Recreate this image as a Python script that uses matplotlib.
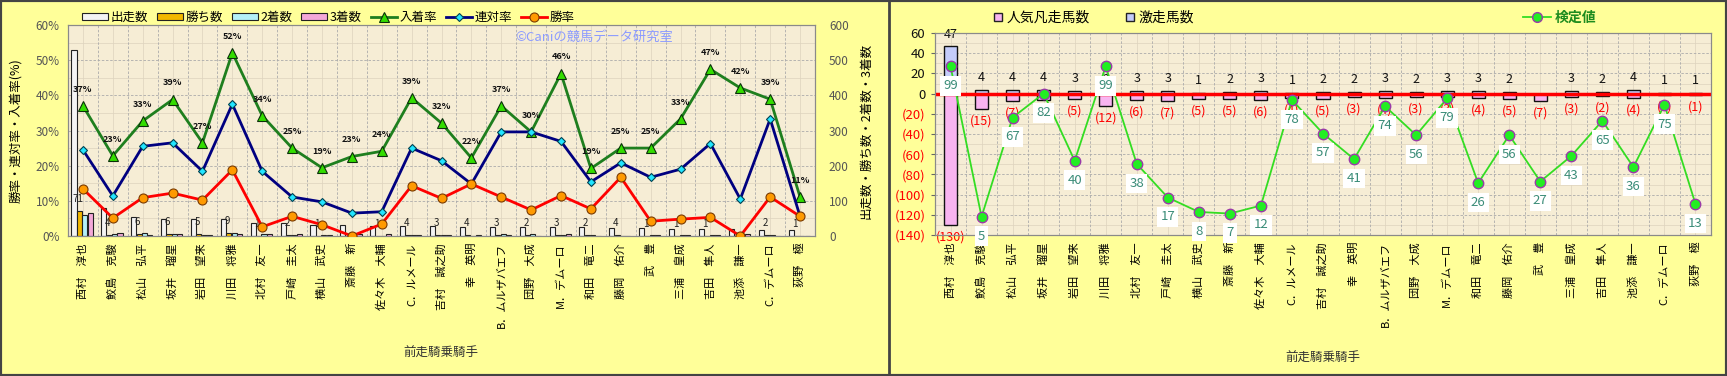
import numpy as np
import matplotlib.pyplot as plt
from matplotlib.lines import Line2D
from matplotlib.patches import Rectangle

plt.rcParams['font.family'] = ['Noto Sans CJK JP', 'DejaVu Sans']

# jockeys (previous race rider)
jockeys = ['西村　淳也', '鮫島　克駿', '松山　弘平', '坂井　瑠星', '岩田　望来', '川田　将雅',
           '北村　友一', '戸崎　圭太', '横山　武史', '斎藤　新', '佐々木　大輔', 'C．ルメール',
           '吉村　誠之助', '幸　英明', 'B．ムルザバエフ', '団野　大成', 'M．デムーロ', '和田　竜二',
           '藤岡　佑介', '武　豊', '三浦　皇成', '吉田　隼人', '池添　謙一', 'C．デムーロ', '荻野　極']

# left chart: counts
starts = [530, 79, 55, 49, 49, 48, 38, 36, 31, 31, 29, 28, 28, 27, 27, 27, 26, 26, 24, 24, 21, 19, 19, 18, 18]
wins = [71, 4, 6, 6, 5, 9, 1, 2, 1, 0, 1, 4, 3, 4, 3, 2, 3, 2, 4, 1, 1, 1, 0, 2, 1]
seconds = [59, 5, 8, 7, 4, 9, 6, 2, 2, 2, 1, 3, 3, 0, 5, 6, 4, 2, 1, 3, 3, 4, 2, 4, 0]
thirds = [66, 9, 4, 6, 4, 7, 6, 5, 3, 5, 5, 4, 3, 2, 2, 0, 5, 1, 1, 2, 3, 4, 6, 1, 1]

# left chart: rates (%)
place_rate = [37.0, 22.8, 32.7, 38.8, 26.53, 52.1, 34.2, 25.0, 19.4, 22.6, 24.1, 39.3, 32.1,
              22.2, 37.0, 29.6, 46.2, 19.2, 25.0, 25.0, 33.3, 47.4, 42.1, 38.9, 11.1]
rentai_rate = [24.5, 11.4, 25.5, 26.5, 18.4, 37.5, 18.4, 11.1, 9.7, 6.5, 6.9, 25.0, 21.4,
               14.8, 29.6, 29.6, 26.9, 15.4, 20.8, 16.7, 19.0, 26.3, 10.5, 33.3, 5.6]
win_rate = [13.4, 5.1, 10.9, 12.2, 10.2, 18.8, 2.6, 5.6, 3.2, 0.0, 3.4, 14.3, 10.7,
            14.8, 11.1, 7.4, 11.5, 7.7, 16.7, 4.2, 4.8, 5.3, 0.0, 11.1, 5.6]

# right chart
gekisou = [47, 4, 4, 4, 3, 2, 3, 3, 1, 2, 3, 1, 2, 2, 3, 2, 3, 3, 2, 0, 3, 2, 4, 1, 1]
ninki_bonsou = [-130, -15, -7, -6, -5, -12, -6, -7, -5, -5, -6, -4, -5, -3, -4, -3, -3, -4,
                -5, -7, -3, -2, -4, -1, -1]
kentei = [99, 5, 67, 82, 40, 99, 38, 17, 8, 7, 12, 78, 57, 41, 74, 56, 79, 26, 56, 27, 43,
          65, 36, 75, 13]

W, H = 1727, 376
BG = '#FFFF99'
PLOT_BG = '#F6EDD5'
GRID = '#ABABAB'

fig = plt.figure(figsize=(W / 100, H / 100), dpi=100, facecolor=BG)
x = np.arange(len(jockeys))


def style_grid(ax, major_y, minor_y):
    ax.set_facecolor(PLOT_BG)
    for b in x[:-1] + 0.5:
        ax.axvline(b, color=GRID, lw=0.6, ls=(0, (3, 2)), zorder=0.5)
    for c in x:
        ax.axvline(c, color='#DDD3BE', lw=0.5, zorder=0.4)
    for v in minor_y:
        ax.axhline(v, color='#DDD3BE', lw=0.5, zorder=0.4)
    for v in major_y:
        ax.axhline(v, color=GRID, lw=0.6, ls=(0, (3, 2)), zorder=0.5)
    for s in ax.spines.values():
        s.set_color('#8A8A8A')


# ---------------- left chart ----------------
ax1 = fig.add_axes([68 / W, 1 - 236 / H, (815 - 68) / W, (236 - 25) / H])
ax1b = ax1.twinx()
ax1.yaxis.tick_right()
ax1.yaxis.set_label_position('right')
ax1b.yaxis.tick_left()
ax1b.yaxis.set_label_position('left')

style_grid(ax1, np.arange(100, 600, 100), np.arange(50, 600, 100))
bw = 0.17
b1 = ax1.bar(x - 0.30, starts, bw, color='#F4F4F4', edgecolor='#222222', lw=0.8, label='出走数', zorder=2)
b2 = ax1.bar(x - 0.12, wins, bw, color='#F2B800', edgecolor='#222222', lw=0.8, label='勝ち数', zorder=2)
b3 = ax1.bar(x + 0.06, seconds, bw, color='#B4F0F8', edgecolor='#222222', lw=0.8, label='2着数', zorder=2)
b4 = ax1.bar(x + 0.24, thirds, bw, color='#F4A8D8', edgecolor='#222222', lw=0.8, label='3着数', zorder=2)
for xi, w in zip(x, wins):
    if w > 0:
        ax1.annotate(str(w), (xi - 0.17, w), xytext=(0, 5), textcoords='offset points',
                     ha='center', va='bottom', fontsize=7, color='#222222', zorder=3)
ax1.set_ylim(0, 600)
ax1.set_yticks(np.arange(0, 601, 100))
ax1.tick_params(axis='y', length=0, labelsize=8.5, labelcolor='#555555', pad=10)
ax1.set_ylabel('出走数・勝ち数・2着数・3着数', fontsize=9, labelpad=8)
ax1.set_xlim(-0.5, len(jockeys) - 0.5)
ax1.set_xticks(x)
ax1.set_xticklabels(jockeys, rotation=90, fontsize=8)
ax1.tick_params(axis='x', length=0, pad=5)

l1, = ax1b.plot(x, place_rate, color='#1E7F1E', lw=2, marker='^', ms=7.5,
                mfc='#33DD00', mec='#0A300A', mew=0.8, label='入着率', zorder=3)
l2, = ax1b.plot(x, rentai_rate, color='#000080', lw=2, marker='D', ms=4.5,
                mfc='#22E5FF', mec='#004050', mew=0.8, label='連対率', zorder=3)
l3, = ax1b.plot(x, win_rate, color='#FF0000', lw=2, marker='o', ms=6.5,
                mfc='#FF9A00', mec='#7A3A00', mew=0.8, label='勝率', zorder=3)
for xi, v in zip(x, place_rate):
    ax1b.annotate(f'{v:.0f}%', (xi, v), xytext=(0, 12), textcoords='offset points',
                  ha='center', va='center', fontsize=6.5, fontweight='bold', color='#111111')
ax1b.set_ylim(0, 60)
ax1b.set_yticks(np.arange(0, 61, 10))
ax1b.set_yticklabels([f'{v}%' for v in range(0, 61, 10)])
ax1b.tick_params(axis='y', length=0, labelsize=8.5, labelcolor='#555555', pad=6)
ax1b.set_ylabel('勝率・連対率・入着率(%)', fontsize=9, labelpad=10)
for s in ax1b.spines.values():
    s.set_color('#8A8A8A')

fig.legend([b1, b2, b3, b4, l1, l2, l3], ['出走数', '勝ち数', '2着数', '3着数', '入着率', '連対率', '勝率'],
           loc='center', bbox_to_anchor=(328 / W, 1 - 17 / H), ncol=7, frameon=False,
           fontsize=9, handlelength=2.1, handleheight=0.5, columnspacing=0.7, handletextpad=0.2)
fig.text(594 / W, 1 - 37 / H, '©Caniの競馬データ研究室', color='#8C9BFF', fontsize=9.5,
         ha='center', va='center')
fig.text(441 / W, 1 - 353 / H, '前走騎乗騎手', fontsize=9, color='#333333', ha='center', va='center')

# ---------------- right chart ----------------
ax2 = fig.add_axes([935 / W, 1 - 235 / H, (1711 - 935) / W, (235 - 33) / H])
ax2b = ax2.twinx()
style_grid(ax2, np.arange(-120, 60, 20), np.arange(-130, 60, 20))
rb1 = ax2.bar(x, gekisou, 0.42, color='#C4CCFA', edgecolor='#111111', lw=1, zorder=2)
rb2 = ax2.bar(x, ninki_bonsou, 0.42, color='#F8B4F0', edgecolor='#111111', lw=1, zorder=2)
ax2.axhline(0, color='#FF0000', lw=2.5, zorder=4)
for xi, v in zip(x, gekisou):
    if v > 0:
        ax2.annotate(str(v), (xi, v), xytext=(0, 4), textcoords='offset points',
                     ha='center', va='bottom', fontsize=9, color='#111111', zorder=3)
for xi, v in zip(x, ninki_bonsou):
    ax2.annotate(f'({-v})', (xi, v), xytext=(0, -4), textcoords='offset points',
                 ha='center', va='top', fontsize=9, color='#FF0000', zorder=3)
ax2.set_ylim(-140, 60)
yt = np.arange(-140, 61, 20)
ax2.set_yticks(yt)
ax2.set_yticklabels([f'({-v})' if v < 0 else str(v) for v in yt])
for lab, v in zip(ax2.get_yticklabels(), yt):
    lab.set_color('#FF0000' if v < 0 else '#111111')
ax2.tick_params(axis='y', length=3, color='#666666', labelsize=9.5, pad=4)
ax2.set_xlim(-0.5, len(jockeys) - 0.5)
ax2.set_xticks(x)
ax2.set_xticklabels(jockeys, rotation=90, fontsize=8)
ax2.tick_params(axis='x', length=0, pad=5)

ax2b.plot(x, kentei, color='#33DD22', lw=1.3, zorder=2)
for xi, v in zip(x, kentei):
    ax2b.annotate(str(v), (xi, v), xytext=(0, -14), textcoords='offset points',
                  ha='center', va='center', fontsize=9.5, color='#3A8C78', zorder=4,
                  bbox=dict(boxstyle='square,pad=0.25', fc='white', ec='none'))
ax2b.plot(x, kentei, ls='none', marker='o', ms=7.5, mfc='#22EE22', mec='#9A3AA8', mew=1, zorder=5)
ax2b.set_ylim(-6.4, 119.8)
ax2b.set_yticks([])
for s in ax2b.spines.values():
    s.set_color('#8A8A8A')

leg_a = fig.legend([Line2D([], [], ls='none', marker='s', ms=6, mfc='#F8B4F0', mec='#222222'),
                    Line2D([], [], ls='none', marker='s', ms=6, mfc='#C4CCFA', mec='#222222')],
                   ['人気凡走馬数', '激走馬数'], loc='center', bbox_to_anchor=(1093 / W, 1 - 18 / H),
                   ncol=2, frameon=False, fontsize=10, handlelength=0.8, columnspacing=2.5,
                   handletextpad=0.2)
leg_b = fig.legend([Line2D([], [], color='#33DD22', lw=1.3, marker='o', ms=7, mfc='#22EE22', mec='#9A3AA8')],
                   ['検定値'], loc='center', bbox_to_anchor=(1560 / W, 1 - 18 / H),
                   frameon=False, fontsize=10, handlelength=2.0, handletextpad=0.3)
for t in leg_b.get_texts():
    t.set_color('#1E8C1E')
    t.set_fontweight('bold')
fig.text(1323 / W, 1 - 358 / H, '前走騎乗騎手', fontsize=9, color='#333333', ha='center', va='center')

# panel frames
fig.add_artist(Rectangle((0, 0), 1, 1, transform=fig.transFigure, fill=False,
                         edgecolor='#444444', lw=3))
fig.add_artist(Line2D([889 / W, 889 / W], [0, 1], transform=fig.transFigure,
                      color='#444444', lw=2))

fig.savefig('out.png', dpi=100, facecolor=BG)
